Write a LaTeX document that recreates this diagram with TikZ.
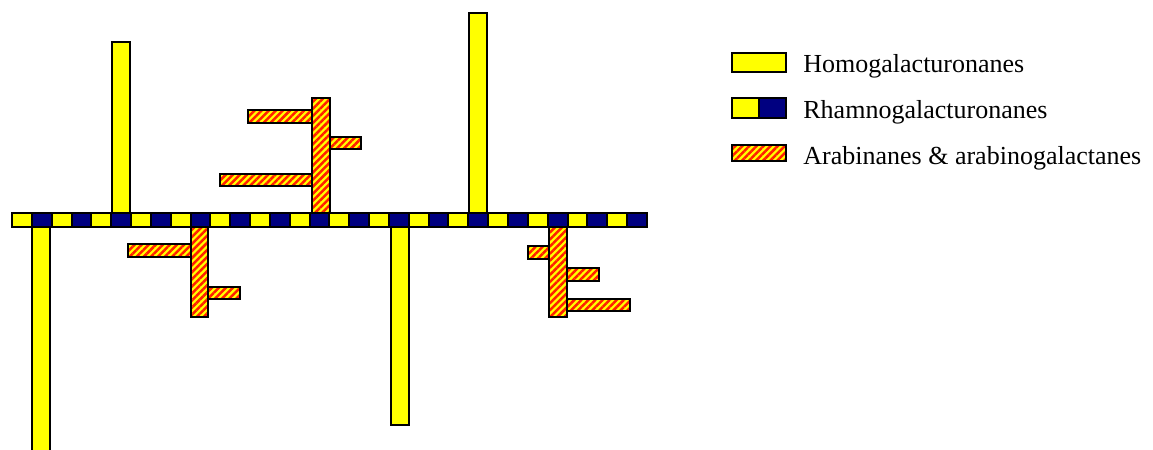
\documentclass[tikz,border=0pt]{standalone}
\usepackage{fontspec}
\setmainfont{Liberation Serif}
\usetikzlibrary{patterns.meta}
\definecolor{hgyellow}{RGB}{255,255,0}
\definecolor{rgnavy}{RGB}{0,0,128}
\definecolor{arared}{RGB}{255,30,0}

\begin{document}
\begin{tikzpicture}[
  x=0.5pt, y=-0.5pt,
  hg/.style={draw=black, line width=1pt, fill=hgyellow},
  rg/.style={draw=black, line width=1pt, fill=rgnavy},
  ara/.style={draw=black, line width=1pt, preaction={fill=hgyellow}, pattern={Lines[angle=45,distance=2.5pt,line width=1.25pt]}, pattern color=arared},
  lbl/.style={anchor=base west, inner sep=0pt, font=\fontsize{13}{15}\selectfont}
]
  \useasboundingbox (0,0) rectangle (1153,450);

  % --- 1. BACKBONE (alternating units) ---
  \foreach \i in {0,2,...,30}
    \draw[hg] ({12+19.84*\i},213) rectangle ++(19.84,14);
  \foreach \i in {1,3,...,31}
    \draw[rg] ({12+19.84*\i},213) rectangle ++(19.84,14);

  % --- 2. HOMOGALACTURONAN CHAINS ---
  \draw[hg] (112,42) rectangle (130,213);
  \draw[hg] (469,13) rectangle (487,213);
  \draw[hg] (32,227) rectangle (50,451);
  \draw[hg] (391,227) rectangle (409,425);

  % --- 3. SIDE CHAINS (top) ---
  \draw[ara] (248,110) rectangle (312,123);
  \draw[ara] (220,174) rectangle (312,186);
  \draw[ara] (330,137) rectangle (361,149);
  \draw[ara] (312,98) rectangle (330,213);

  % Side chains (bottom left)
  \draw[ara] (128,244) rectangle (191,257);
  \draw[ara] (208,287) rectangle (240,299);
  \draw[ara] (191,227) rectangle (208,317);

  % Side chains (bottom right)
  \draw[ara] (528,246) rectangle (549,259);
  \draw[ara] (567,268) rectangle (599,281);
  \draw[ara] (567,299) rectangle (630,311);
  \draw[ara] (549,227) rectangle (567,317);

  % --- 4. LEGEND ---
  \draw[hg] (732,53) rectangle (786,72);
  \draw[hg] (732,98) rectangle (759,118);
  \draw[rg] (759,98) rectangle (786,118);
  \draw[ara] (732,145) rectangle (786,161);

  \node[lbl] (homo) at (803,72) {Homogalacturonanes};
  \node[lbl] (rhamno) at (803,118) {Rhamnogalacturonanes};
  \node[lbl] (arabi) at (803,164) {Arabinanes \& arabinogalactanes};

\end{tikzpicture}
\end{document}
